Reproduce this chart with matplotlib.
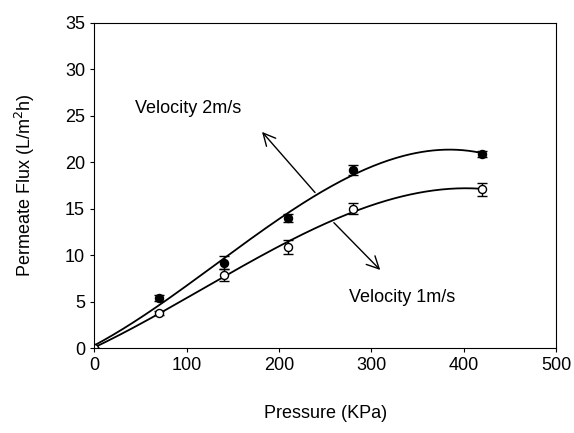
import matplotlib
matplotlib.use('Agg')
import matplotlib.pyplot as plt
import numpy as np

plt.rcParams['font.family'] = ['Liberation Sans', 'DejaVu Sans']

# data
pressure = [0, 70, 140, 210, 280, 420]
flux_2ms = [0, 5.4, 9.2, 14.0, 19.2, 20.9]
err_2ms = [0, 0.3, 0.7, 0.45, 0.55, 0.3]
flux_1ms = [0, 3.8, 7.9, 10.9, 15.0, 17.1]
err_1ms = [0, 0.2, 0.65, 0.75, 0.6, 0.7]

fig = plt.figure(figsize=(5.74, 4.33), dpi=100)
ax = fig.add_axes([0.164, 0.196, 0.805, 0.751])

# fitted curves (cubic)
xx = np.linspace(0, 420, 200)
c2 = np.polyfit(pressure, flux_2ms, 3)
c1 = np.polyfit(pressure, flux_1ms, 3)
ax.plot(xx, np.polyval(c2, xx), 'k-', lw=1.3)
ax.plot(xx, np.polyval(c1, xx), 'k-', lw=1.3)

ax.errorbar(pressure, flux_2ms, yerr=err_2ms, fmt='o', color='k', mfc='k',
	ms=5.8, capsize=3.5, elinewidth=1, capthick=1)
ax.errorbar(pressure, flux_1ms, yerr=err_1ms, fmt='o', color='k', mfc='white',
	ms=5.8, capsize=3.5, elinewidth=1, capthick=1)

ax.set_xlim(0, 500)
ax.set_ylim(0, 35)
ax.set_xticks(range(0, 501, 100))
ax.set_yticks(range(0, 36, 5))
ax.tick_params(direction='out', length=3, labelsize=13)
ax.set_xlabel('Pressure (KPa)', fontsize=13, labelpad=22)
ax.set_ylabel('Permeate Flux (L/m$^2$h)', fontsize=13, labelpad=20)

# annotations, arrows start on the fitted curves
ax.annotate('', xy=(179.7, 23.5), xytext=(241, np.polyval(c2, 241)),
	arrowprops=dict(arrowstyle='->', color='k', lw=1, mutation_scale=22))
ax.annotate('', xy=(311.7, 8.2), xytext=(257.3, np.polyval(c1, 257.3)),
	arrowprops=dict(arrowstyle='->', color='k', lw=1, mutation_scale=22))
ax.text(44, 25.8, 'Velocity 2m/s', fontsize=13, va='center')
ax.text(276, 5.4, 'Velocity 1m/s', fontsize=13, va='center')

fig.savefig('out.png', dpi=100)
